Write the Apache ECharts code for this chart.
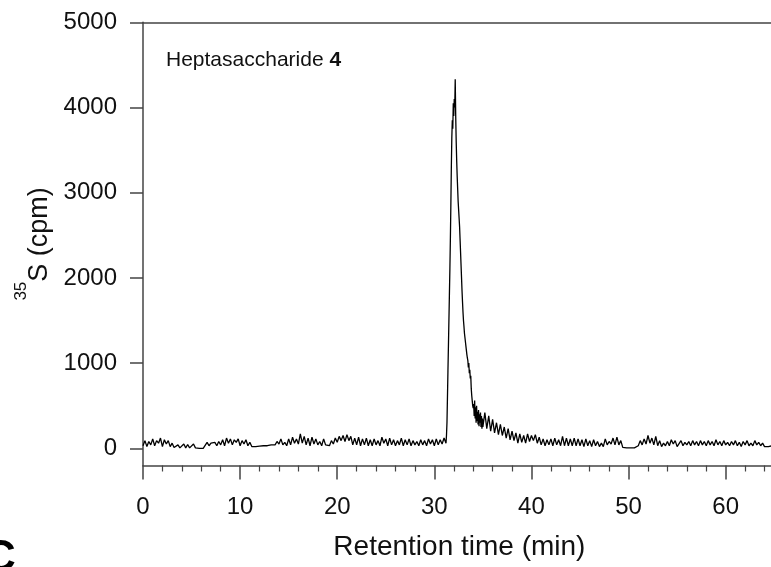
<!DOCTYPE html>
<html>
<head>
<meta charset="utf-8">
<script src="https://cdn.jsdelivr.net/npm/echarts@6/dist/echarts.min.js"></script>
<style>html,body{margin:0;padding:0;background:#fff}#c{width:771px;height:567px}</style>
</head>
<body>
<div id="c"></div>
<script>
// ---- data ----
// baseline before the peak: 0.0 -> 31.0 min, every 0.2 min
const baseStart = 0.0, baseStep = 0.2;
const baseValues = [30,90,20,80,40,110,30,90,60,120,
 20,100,50,90,20,60,10,10,40,5,
 5,50,5,45,5,5,50,5,0,0,
 0,0,5,70,30,60,40,70,30,80,
 40,100,30,120,60,110,40,100,70,110,
 30,90,50,100,30,70,20,40,20,40,
 25,40,30,50,30,50,40,60,40,80,
 50,110,40,70,30,110,40,130,60,110,
 50,170,60,140,40,120,30,130,50,110,
 40,80,30,110,40,60,30,90,50,120,
 70,140,90,150,80,160,90,140,40,120,
 40,130,30,110,40,120,30,100,30,110,
 40,90,30,130,60,110,30,120,40,100,
 30,90,40,120,30,100,40,110,30,90,
 40,80,30,100,40,90,30,110,50,100,
 30,110,40,100,50,120];
// peak: 31.20 -> 35.00 min, every 0.05 min
const peakStart = 31.2, peakStep = 0.05;
const peakValues = [60,150,300,600,900,1200,1500,1800,2100,2450,
 2850,3300,3650,3850,3750,4050,3900,4100,4000,4330,
 3900,3600,3380,3200,3050,2900,2800,2700,2600,2450,
 2300,2150,2000,1850,1720,1600,1500,1430,1350,1300,
 1250,1200,1150,1100,1060,1030,950,1000,880,920,
 820,850,700,620,560,500,470,520,380,560,
 350,480,300,500,320,430,280,450,260,400,
 300,420,250,380,230,350,250];
// tail: 35.2 -> 64.8 min, every 0.2 min
const tailStart = 35.2, tailStep = 0.2;
const tailValues = [420,230,380,200,340,180,300,160,280,150,
 250,120,230,100,200,90,180,60,170,70,
 150,60,170,80,150,90,160,60,130,40,
 110,30,100,40,110,30,120,40,100,30,
 140,30,120,30,110,30,120,30,110,30,
 100,20,110,30,90,20,100,30,80,20,
 60,20,110,40,80,50,120,40,130,40,
 90,10,10,5,5,5,5,5,5,30,
 90,40,110,50,150,60,120,40,140,30,
 90,20,60,30,80,30,100,50,90,20,
 10,90,30,70,40,80,30,90,40,80,
 30,90,40,80,30,90,40,80,30,100,
 40,80,30,90,40,70,30,80,40,90,
 30,70,20,80,40,90,30,60,30,90,
 40,70,30,60,20,40,20,30,30];

const yTicks = [0, 1000, 2000, 3000, 4000, 5000];
const xTickLabels = [0, 10, 20, 30, 40, 50, 60];
const xTitle = 'Retention time (min)';
const annotation = 'Heptasaccharide';
const annotationBold = '4';

function seg(start, step, vals) {
  return vals.map((v, i) => [Math.round((start + i * step) * 100) / 100, v]);
}
const seriesData = [].concat(seg(baseStart, baseStep, baseValues), seg(peakStart, peakStep, peakValues), seg(tailStart, tailStep, tailValues));

const FONT = '"Liberation Sans", Arial, Helvetica, sans-serif';
const axisColor = '#444';
const lineStyle = { color: axisColor, width: 1.5 };

const chart = echarts.init(document.getElementById('c'), null, { renderer: 'canvas' });
chart.setOption({
  animation: false,
  backgroundColor: '#fff',
  title: {
    text: '{a|' + annotation + ' }{b|' + annotationBold + '}',
    left: 161, top: 45,
    textStyle: { fontWeight: 'normal', rich: {
      a: { fontSize: 21, fontFamily: FONT, color: '#111', fontWeight: 'normal' },
      b: { fontSize: 21, fontFamily: FONT, color: '#111', fontWeight: 'bold' }
    } }
  },
  grid: { left: 143, top: 22.3, right: -51.8, bottom: 101.5, outerBoundsMode: 'none', containLabel: false },
  xAxis: [{
    type: 'value', min: 0, max: 70, interval: 10, position: 'bottom',
    axisLine: { show: true, onZero: false, lineStyle },
    axisTick: { show: true, length: 14, lineStyle },
    minorTick: { show: true, splitNumber: 5, length: 6, lineStyle: { color: axisColor, width: 1.2 } },
    splitLine: { show: false },
    axisLabel: { margin: 30, fontSize: 24, fontFamily: FONT, color: '#111',
      formatter: v => (xTickLabels.indexOf(v) >= 0 ? String(v) : '') },
    name: xTitle, nameLocation: 'middle', nameGap: 68,
    nameTextStyle: { fontSize: 28, fontFamily: FONT, color: '#111', padding: [0, 47, 0, 0] }
  }, {
    type: 'value', min: 0, max: 70, position: 'top',
    axisLine: { show: true, onZero: false, lineStyle },
    axisTick: { show: false }, axisLabel: { show: false }, splitLine: { show: false }
  }],
  yAxis: {
    type: 'value', min: -202, max: 5000, position: 'left',
    axisLine: { show: true, onZero: false, lineStyle },
    axisTick: { show: true, length: 13, customValues: yTicks, lineStyle },
    axisLabel: { customValues: yTicks, margin: 26, fontSize: 24, fontFamily: FONT, color: '#111',
      formatter: v => String(v) },
    splitLine: { show: false },
    name: '{s|35}{n|S (cpm)}', nameLocation: 'middle', nameRotate: 90, nameGap: 90,
    nameTextStyle: { rich: {
      s: { fontSize: 17, fontFamily: FONT, color: '#111', lineHeight: 24, verticalAlign: 'top' },
      n: { fontSize: 27, fontFamily: FONT, color: '#111', lineHeight: 40, verticalAlign: 'bottom' }
    } }
  },
  graphic: [{
    type: 'text', left: -16, top: 537,
    style: { text: 'C', font: 'bold 44px ' + FONT, fill: '#000' }
  }],
  series: [{
    type: 'line', xAxisIndex: 0, yAxisIndex: 0,
    data: seriesData, showSymbol: false, symbol: 'none', sampling: null,
    lineStyle: { color: '#000', width: 1.3 }, silent: true
  }]
});
</script>
</body>
</html>
